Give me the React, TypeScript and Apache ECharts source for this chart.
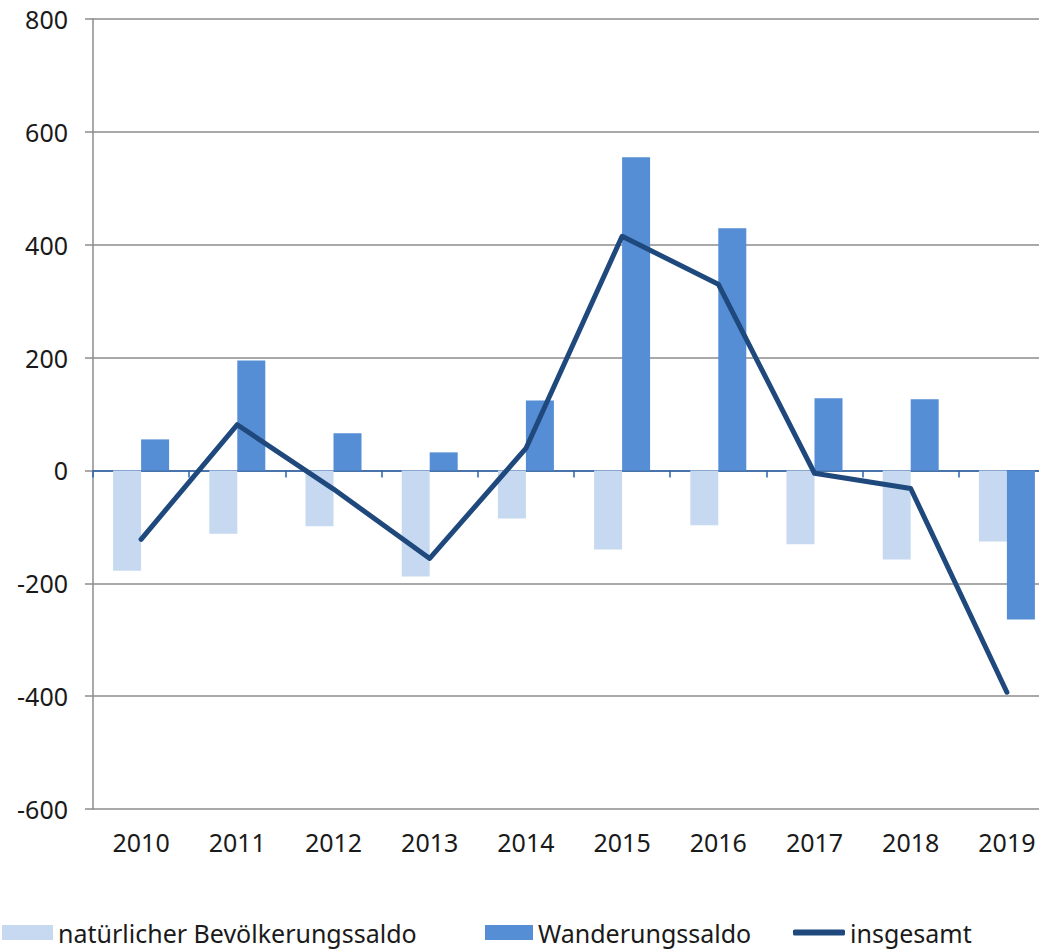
import React, { useEffect, useRef } from "react";
import * as echarts from "echarts";

const years = ["2010", "2011", "2012", "2013", "2014", "2015", "2016", "2017", "2018", "2019"];
const natural = [-178, -112, -99, -188, -85, -140, -97, -131, -158, -126];
const migration = [55, 195, 66, 32, 124, 555, 429, 128, 126, -264];
const total = [-122, 81, -33, -156, 39, 415, 330, -5, -32, -393];
const yMin = -600;
const yMax = 800;
const yStep = 200;

const FONT = "Noto Sans";
const TEXT = "#1a1a1a";
const C_LIGHT = "#c6d9f1";
const C_DARK = "#558ed5";
const C_LINE = "#1f497d";
const C_GRID = "#8c8c8c";
const C_ZERO = "#2a62ad";

export default function App() {
  const ref = useRef<HTMLDivElement>(null);
  useEffect(() => {
    const chart = echarts.init(ref.current!, null, { renderer: "svg" });
    const legendText = { fontFamily: FONT, fontSize: 25, color: TEXT };
    chart.setOption({
      animation: false,
      textStyle: { fontFamily: FONT },
      grid: { left: 93, right: 0, top: 19, bottom: 142, containLabel: false },
      legend: [
        {
          data: ["natürlicher Bevölkerungssaldo"],
          left: 2, top: 920, itemWidth: 51, itemHeight: 15, itemGap: 7,
          icon: "rect", textStyle: legendText, padding: 0,
        },
        {
          data: ["Wanderungssaldo"],
          left: 485, top: 920, itemWidth: 48, itemHeight: 15,
          icon: "rect", textStyle: legendText, padding: 0,
        },
        {
          data: ["insgesamt"],
          left: 793, top: 920, itemWidth: 52, itemHeight: 6,
          icon: "roundRect", textStyle: legendText, padding: 0,
          itemStyle: { color: C_LINE },
        },
      ],
      xAxis: [
        {
          type: "category",
          data: years,
          position: "bottom",
          axisLine: { show: false, onZero: false },
          axisTick: { show: false },
          axisLabel: { fontFamily: FONT, fontSize: 25, color: TEXT, margin: 20 },
          splitLine: { show: false },
        },
        {
          type: "category",
          data: years,
          position: "bottom",
          axisLine: { show: true, onZero: true, lineStyle: { color: C_ZERO, width: 1.5 } },
          axisTick: { show: true, inside: false, length: 7, lineStyle: { color: C_ZERO, width: 1.5 } },
          axisLabel: { show: false },
          splitLine: { show: false },
        },
      ],
      yAxis: {
        type: "value",
        min: yMin,
        max: yMax,
        interval: yStep,
        axisLine: { show: true, lineStyle: { color: C_GRID, width: 1.5 } },
        axisTick: { show: true, length: 8, lineStyle: { color: C_GRID, width: 1.5 } },
        axisLabel: { fontFamily: FONT, fontSize: 25, color: TEXT, margin: 25 },
        splitLine: { show: true, lineStyle: { color: C_GRID, width: 1.5 } },
      },
      series: [
        {
          name: "natürlicher Bevölkerungssaldo",
          type: "bar",
          data: natural,
          barWidth: 28,
          barGap: "0%",
          itemStyle: { color: C_LIGHT },
        },
        {
          name: "Wanderungssaldo",
          type: "bar",
          data: migration,
          barWidth: 28,
          barGap: "0%",
          itemStyle: { color: C_DARK },
        },
        {
          name: "insgesamt",
          type: "line",
          data: total,
          symbol: "none",
          lineStyle: { color: C_LINE, width: 5, cap: "round", join: "round" },
          itemStyle: { color: C_LINE },
          z: 5,
        },
      ],
    });
    return () => chart.dispose();
  }, []);
  return (
    <div
      ref={ref}
      style={{ position: "fixed", left: 0, top: 0, width: 1055, height: 951, background: "#fff" }}
    />
  );
}
